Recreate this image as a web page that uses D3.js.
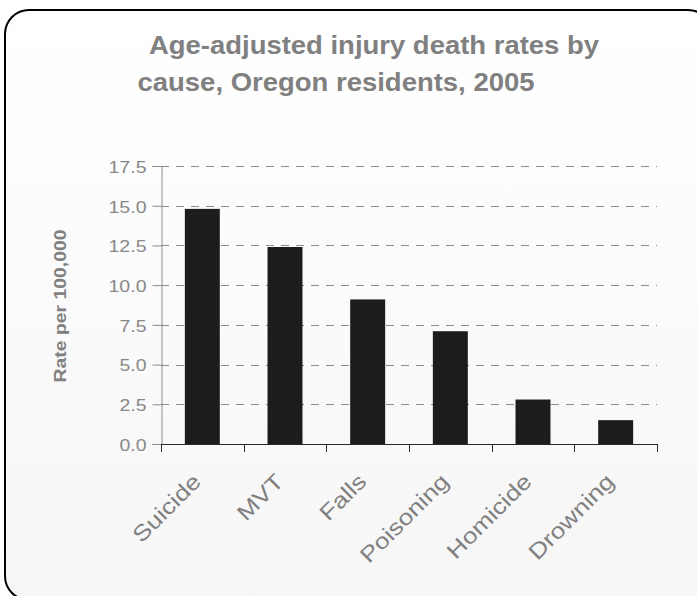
<!DOCTYPE html>
<html>
<head>
<meta charset="utf-8">
<script src="https://cdn.jsdelivr.net/npm/d3@7"></script>
<style>
  html, body { margin: 0; padding: 0; background: #ffffff; }
  svg { display: block; font-family: "Liberation Sans", Arial, sans-serif; }
</style>
</head>
<body>
<svg id="chart" width="697" height="596"></svg>
<script>
// ---- data ----
const categories = ["Suicide", "MVT", "Falls", "Poisoning", "Homicide", "Drowning"];
const values = [14.8, 12.4, 9.1, 7.1, 2.8, 1.5];
const yTicks = [0, 2.5, 5, 7.5, 10, 12.5, 15, 17.5];
const titleLines = ["Age-adjusted injury death rates by", "cause, Oregon residents, 2005"];
const yLabel = "Rate per 100,000";

const svg = d3.select("#chart");

// background + border
const defs = svg.append("defs");
const grad = defs.append("linearGradient").attr("id", "bg").attr("x1", 0).attr("y1", 0).attr("x2", 0).attr("y2", 1);
grad.append("stop").attr("offset", "0%").attr("stop-color", "#ffffff");
grad.append("stop").attr("offset", "100%").attr("stop-color", "#f6f6f6");

svg.append("rect")
  .attr("x", 5).attr("y", 10).attr("width", 707).attr("height", 590)
  .attr("rx", 24).attr("ry", 24)
  .attr("fill", "url(#bg)").attr("stroke", "#000").attr("stroke-width", 2);

// title
const titlePos = [{x: 149, y: 53.5, len: 450}, {x: 137.5, y: 90.5, len: 397}];
svg.selectAll("text.title").data(titleLines).join("text")
  .attr("class", "title")
  .attr("x", (d, i) => titlePos[i].x)
  .attr("y", (d, i) => titlePos[i].y)
  .attr("textLength", (d, i) => titlePos[i].len)
  .attr("lengthAdjust", "spacingAndGlyphs")
  .attr("font-size", 25).attr("font-weight", "bold").attr("fill", "#808080")
  .text(d => d);

// scales
const plotLeft = 161, plotRight = 657, plotTop = 166, plotBottom = 444;
const x = d3.scaleBand().domain(categories).range([plotLeft, plotRight])
  .paddingInner(0.577).paddingOuter(0.2885);
const y = d3.scaleLinear().domain([0, 17.5]).range([plotBottom, plotTop]);

// gridlines (dashed)
svg.append("g").selectAll("line").data(yTicks.filter(d => d > 0)).join("line")
  .attr("x1", plotLeft).attr("x2", plotRight)
  .attr("y1", d => Math.round(y(d)) + 0.5).attr("y2", d => Math.round(y(d)) + 0.5)
  .attr("stroke", "#8c8c8c").attr("stroke-width", 1)
  .attr("stroke-dasharray", "8,7");

// y axis
const yAxis = svg.append("g").attr("transform", `translate(${plotLeft + 0.5},0)`)
  .call(d3.axisLeft(y).tickValues(yTicks).tickSize(9).tickPadding(6).tickFormat(d3.format(".1f")));
yAxis.select(".domain").attr("stroke", "#8c8c8c");
yAxis.selectAll(".tick line").attr("stroke", "#8c8c8c");
yAxis.selectAll(".tick text")
  .attr("font-family", "Liberation Sans, Arial, sans-serif")
  .attr("font-size", 16).attr("fill", "#888888").attr("dy", "0.4em")
  .attr("textLength", d => d3.format(".1f")(d).length === 4 ? 38 : 27)
  .attr("lengthAdjust", "spacingAndGlyphs");

// bars
svg.append("g").selectAll("rect").data(values).join("rect")
  .attr("x", (d, i) => x(categories[i]))
  .attr("width", x.bandwidth())
  .attr("y", d => y(d))
  .attr("height", d => y(0) - y(d))
  .attr("fill", "#1c1c1c");

// x axis line + boundary ticks
const boundaries = d3.range(categories.length + 1).map(i => x.range()[0] + i * x.step());
const xAxis = svg.append("g");
xAxis.append("line")
  .attr("x1", plotLeft).attr("x2", plotRight + 1)
  .attr("y1", y(0) + 0.5).attr("y2", y(0) + 0.5)
  .attr("stroke", "#2a2a2a").attr("stroke-width", 1.2);
xAxis.selectAll("line.bt").data(boundaries).join("line")
  .attr("class", "bt")
  .attr("x1", d => Math.round(d) + 0.5).attr("x2", d => Math.round(d) + 0.5)
  .attr("y1", y(0)).attr("y2", y(0) + 8)
  .attr("stroke", "#2a2a2a").attr("stroke-width", 1);

// x labels (rotated)
const labelUnits = {Suicide: 3279, MVT: 2111, Falls: 2111, Poisoning: 4391, Homicide: 4167, Drowning: 4223};
svg.append("g").selectAll("text").data(categories).join("text")
  .attr("transform", d => `translate(${x(d) + x.bandwidth() / 2},${y(0) + 39}) rotate(-45)`)
  .attr("text-anchor", "end")
  .attr("font-size", 22).attr("fill", "#808080")
  .attr("textLength", d => labelUnits[d] * 0.0262)
  .attr("lengthAdjust", "spacingAndGlyphs")
  .text(d => d);

// y label
svg.append("text")
  .attr("transform", `translate(66,306) rotate(-90)`)
  .attr("text-anchor", "middle")
  .attr("font-size", 17).attr("font-weight", "bold").attr("fill", "#808080")
  .attr("textLength", 153).attr("lengthAdjust", "spacingAndGlyphs")
  .text(yLabel);
</script>
</body>
</html>
